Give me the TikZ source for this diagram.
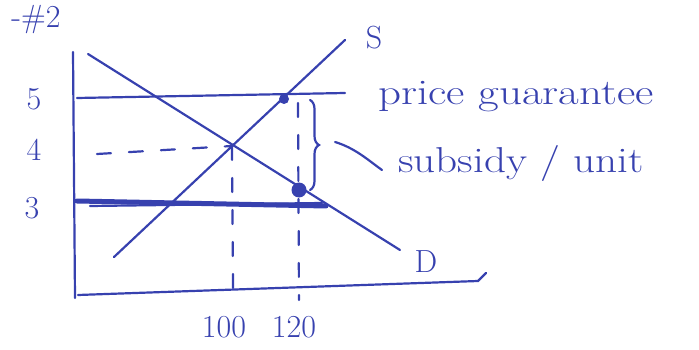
\documentclass[tikz,border=0pt]{standalone}
\usepackage{graphicx}
\usetikzlibrary{decorations.pathreplacing}
\definecolor{ink}{RGB}{55,65,175}
\begin{document}
\begin{tikzpicture}[x=1pt,y=-1pt,
  pen/.style={draw=ink,line width=2.2pt,line cap=round},
  thickpen/.style={draw=ink,line width=5pt,line cap=round},
  dashpen/.style={draw=ink,line width=2.2pt,line cap=round,dash pattern=on 14pt off 18pt},
  lbl/.style={text=ink,font=\fontsize{32}{34}\selectfont,inner sep=0pt},
  wlbl/.style={text=ink,font=\fontsize{36}{38}\selectfont,inner sep=0pt},
  dotm/.style={circle,fill=ink,inner sep=0pt,minimum size=10pt}]
\useasboundingbox (0,0) rectangle (699,350);
% title
\node[lbl] (title) at (36,20) {-\#2};
% axes
\coordinate (ytop) at (73,52);
\coordinate (orig) at (75,298);
\coordinate (xend) at (478,281);
\coordinate (xhook) at (486,273);
\draw[pen] (ytop) -- (orig);
\draw[pen] (78,295) -- (xend) -- (xhook);
% price lines
\coordinate (p5a) at (77,98);
\coordinate (p5b) at (345,93);
\coordinate (p3a) at (77,201);
\coordinate (p3b) at (326,206);
\draw[pen] (p5a) -- (p5b);
\draw[thickpen] (p3a) -- (p3b);
\draw[pen] (90,206) -- (322,203);
% supply and demand
\coordinate (s0) at (114,257);
\coordinate (s1) at (345,40);
\coordinate (d0) at (88,54);
\coordinate (d1) at (400,250);
\draw[pen] (s0) -- (s1);
\draw[pen] (d0) -- (d1);
\node[lbl] (S) at (374,38) {S};
\node[lbl] (D) at (426,262) {D};
% equilibrium and dashes
\coordinate (eq) at (232,146);
\coordinate (q100) at (233,288);
\coordinate (q120top) at (298,103);
\coordinate (q120) at (299,300);
\draw[dashpen] (97,154) -- (eq);
\draw[dashpen] (eq) -- (q100);
\draw[dashpen] (q120top) -- (q120);
% points
\node[dotm] (pt5) at (284,99) {};
\node[dotm,minimum size=15pt] (pt3) at (299,190) {};
% brace
\draw[pen,decorate,decoration={brace,amplitude=9pt}] (310,100) -- (310,190);
\coordinate (sub) at (382,170);
\draw[pen] (335,142) .. controls (355,148) and (368,160) .. (sub);
% labels
\node[lbl] (five) at (34,99) {5};
\node[lbl] (four) at (34,150) {4};
\node[lbl] (three) at (32,208) {3};
\node[lbl] (n100) at (224,327) {100};
\node[lbl] (n120) at (294,327) {120};
\node[wlbl,anchor=west] (pg) at (378,97) {\scalebox{1.25}[1]{price guarantee}};
\node[wlbl,anchor=west] (su) at (398,164) {\scalebox{1.2}[1]{subsidy / unit}};
\end{tikzpicture}
\end{document}
